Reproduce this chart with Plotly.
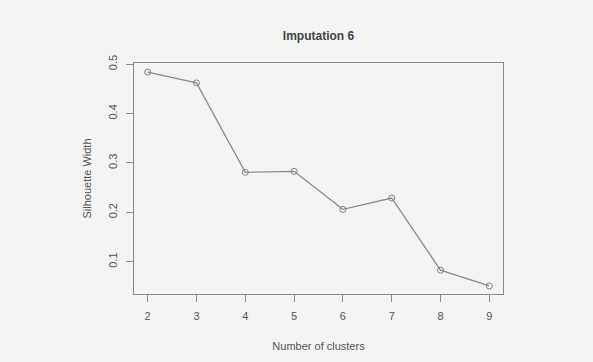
import plotly.graph_objects as go

clusters = [2, 3, 4, 5, 6, 7, 8, 9]
silhouette = [0.484, 0.462, 0.281, 0.283, 0.206, 0.229, 0.083, 0.051]
x_ticks = [2, 3, 4, 5, 6, 7, 8, 9]
y_ticks = [0.1, 0.2, 0.3, 0.4, 0.5]

bg = "#f4f4f4"
axis_col = "#8a8a8a"
text_col = "#555555"

fig = go.Figure(
    go.Scatter(
        x=clusters,
        y=silhouette,
        mode="lines+markers",
        line=dict(color="#8c8c8c", width=1.3),
        marker=dict(symbol="circle-open", size=6, color="#808080", line=dict(width=1)),
        showlegend=False,
    )
)

fig.update_layout(
    width=593,
    height=362,
    paper_bgcolor=bg,
    plot_bgcolor=bg,
    margin=dict(l=134, r=90, t=63, b=68),
    font=dict(family="Liberation Sans, Arial, sans-serif", size=11, color=text_col),
    title=dict(
        text="<b>Imputation 6</b>",
        x=(134 + 503) / 2 / 593,
        xanchor="center",
        y=1 - 36 / 362,
        yanchor="middle",
        font=dict(size=12, color="#444444"),
    ),
)

fig.update_xaxes(
    range=[1.72, 9.28],
    tickvals=x_ticks,
    ticks="outside",
    ticklen=7,
    tickcolor=axis_col,
    ticklabelstandoff=5,
    showline=True,
    linecolor=axis_col,
    linewidth=1.2,
    mirror=True,
    showgrid=False,
    zeroline=False,
    automargin=False,
    title=dict(text="Number of clusters", standoff=21, font=dict(size=11, color=text_col)),
)

fig.update_yaxes(
    range=[0.0347, 0.5023],
    tickvals=y_ticks,
    tickformat=".1f",
    tickangle=-90,
    ticks="outside",
    ticklen=7,
    tickcolor=axis_col,
    ticklabelstandoff=5,
    showline=True,
    linecolor=axis_col,
    linewidth=1.2,
    mirror=True,
    showgrid=False,
    zeroline=False,
    automargin=False,
    title=dict(text="Silhouette Width", standoff=12, font=dict(size=11, color=text_col)),
)

fig.write_html("out.html")
